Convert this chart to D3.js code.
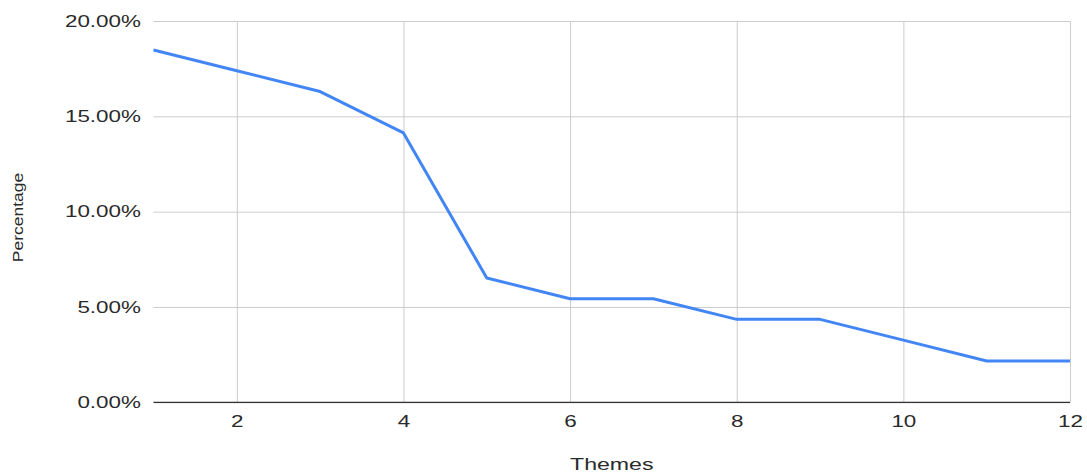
<!DOCTYPE html>
<html>
<head>
<meta charset="utf-8">
<script src="https://cdn.jsdelivr.net/npm/d3@7"></script>
<style>
  html, body { margin: 0; padding: 0; background: #fff; }
  svg { display: block; }
  text { font-family: "Liberation Sans", Arial, sans-serif; }
</style>
</head>
<body>
<svg id="chart" width="1087" height="474"></svg>
<script>
const themes = [1, 2, 3, 4, 5, 6, 7, 8, 9, 10, 11, 12];
const percentages = [18.48, 17.39, 16.30, 14.13, 6.52, 5.43, 5.43, 4.35, 4.35, 3.26, 2.17, 2.17];
const xTicks = [2, 4, 6, 8, 10, 12];
const yTicks = [0, 5, 10, 15, 20];
const xTitle = "Themes";
const yTitle = "Percentage";

const margin = { left: 153.5, top: 21, right: 17, bottom: 71.7 };
const W = 1087, H = 474;
const width = W - margin.left - margin.right;
const height = H - margin.top - margin.bottom;
const SX = 1.36;

const svg = d3.select("#chart");
const g = svg.append("g").attr("transform", `translate(${margin.left},${margin.top})`);

const x = d3.scaleLinear().domain([1, 12]).range([0, width]);
const y = d3.scaleLinear().domain([0, 20]).range([height, 0]);

// Y axis with gridlines
const yAxis = g.append("g")
  .call(d3.axisLeft(y).tickValues(yTicks).tickSize(-width).tickPadding(9.2)
    .tickFormat(d => d.toFixed(2) + "%"));
yAxis.select(".domain").remove();
yAxis.selectAll("line").attr("stroke", "#cccccc").attr("stroke-width", 1);
yAxis.selectAll("text")
  .attr("fill", "#2a2a2a").style("font-size", "16.5px")
  .attr("transform", `scale(${SX},1)`);

// X axis with gridlines
const xAxis = g.append("g").attr("transform", `translate(0,${height})`)
  .call(d3.axisBottom(x).tickValues(xTicks).tickSize(-height).tickPadding(12.5)
    .tickFormat(d3.format("d")));
xAxis.select(".domain").remove();
xAxis.selectAll("line").attr("stroke", "#cccccc").attr("stroke-width", 1);
xAxis.selectAll("text")
  .attr("fill", "#2a2a2a").style("font-size", "16.5px")
  .attr("transform", `scale(${SX},1)`);

// Baseline
g.append("line")
  .attr("x1", 0).attr("x2", width)
  .attr("y1", y(0)).attr("y2", y(0))
  .attr("stroke", "#333").attr("stroke-width", 1.2);

// Line
const line = d3.line().x((d, i) => x(themes[i])).y(d => y(d));
g.append("path")
  .datum(percentages)
  .attr("fill", "none")
  .attr("stroke", "#4285f4")
  .attr("stroke-width", 3)
  .attr("stroke-linejoin", "round")
  .attr("d", line);

// Axis titles
svg.append("text")
  .attr("transform", `translate(${margin.left + width / 2},470) scale(1.36,1)`)
  .attr("text-anchor", "middle")
  .attr("fill", "#2a2a2a")
  .style("font-size", "17px")
  .text(xTitle);

svg.append("text")
  .attr("transform", `translate(22.5,217.5) rotate(-90) scale(1.25,1)`)
  .attr("text-anchor", "middle")
  .attr("fill", "#2a2a2a")
  .style("font-size", "14px")
  .text(yTitle);
</script>
</body>
</html>
